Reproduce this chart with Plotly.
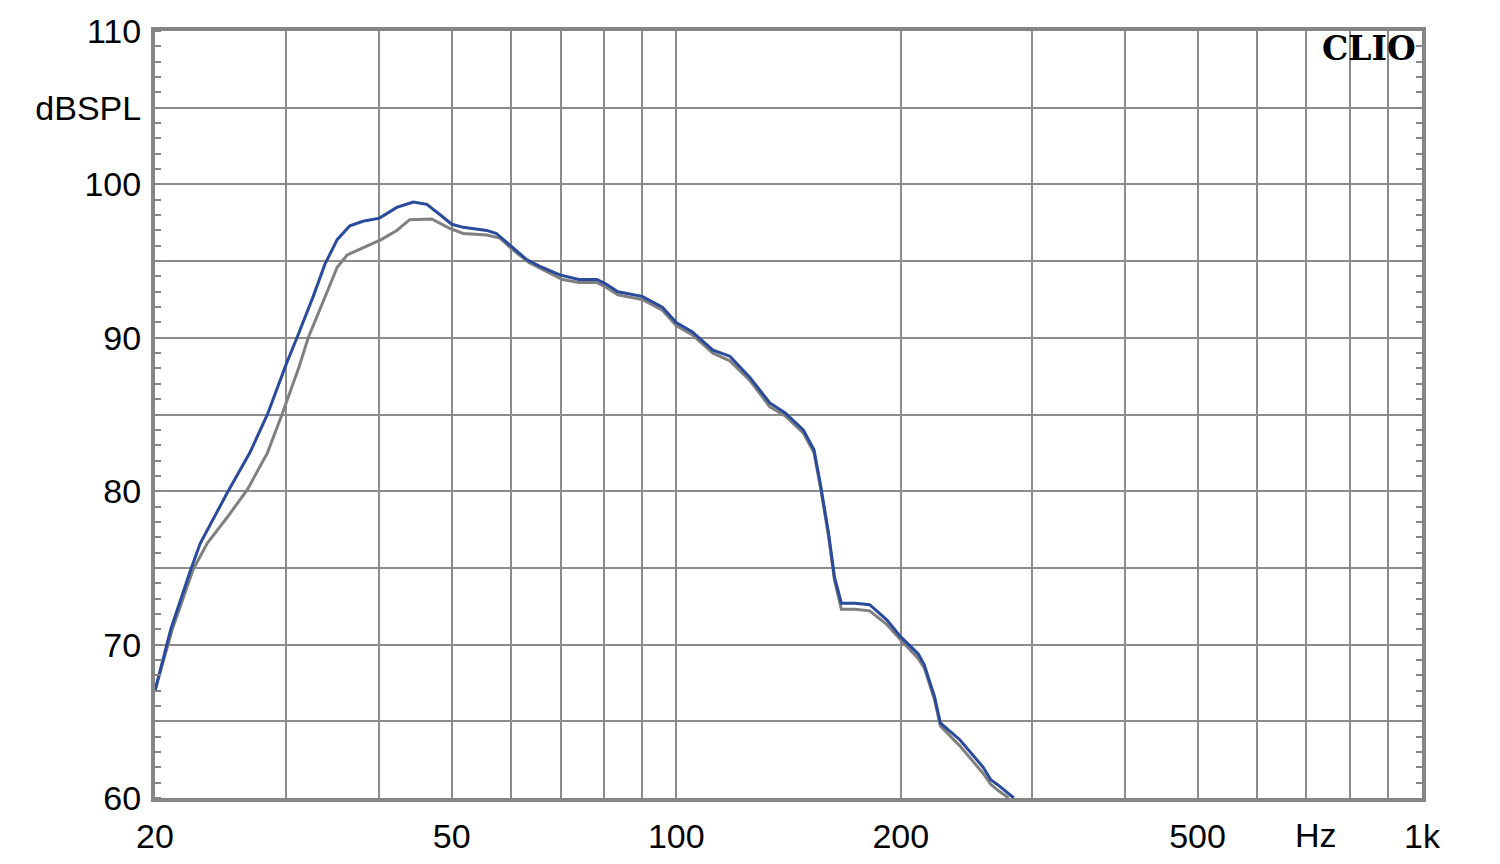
import math
import plotly.graph_objects as go

# ---- data ----
blue_freq = [20, 21, 22.3, 23.0, 25.0, 26.8, 28.3, 30.0, 31.0, 32.6, 33.8, 35.1, 36.5, 38, 40,
             42.2, 44.4, 46.3, 48, 50, 51.8, 55.7, 57.4, 59.9, 63, 66, 69.8, 74, 78.3, 80.5,
             83.5, 90, 95.8, 100, 105, 112, 118, 125.6, 133.5, 140, 148, 153, 156, 160, 163,
             166.5, 173.7, 181.7, 191.7, 200, 211, 215, 222, 226, 240, 258, 264, 270, 283.6]
blue_db = [67.0, 71.0, 74.8, 76.6, 79.9, 82.5, 85.0, 88.3, 90.0, 92.7, 94.8, 96.4, 97.3, 97.6, 97.8,
           98.5, 98.85, 98.7, 98.1, 97.4, 97.2, 97.0, 96.8, 96.0, 95.1, 94.6, 94.1, 93.8, 93.8, 93.5,
           93.0, 92.7, 92.0, 91.0, 90.4, 89.2, 88.8, 87.4, 85.75, 85.1, 84.0, 82.7, 80.5, 77.3, 74.4,
           72.7, 72.7, 72.6, 71.6, 70.5, 69.4, 68.7, 66.6, 64.9, 63.8, 62.0, 61.2, 60.85, 60.0]

gray_freq = [20, 21.1, 22.5, 23.5, 25.0, 26.6, 28.3, 29.6, 31.2, 32.1, 34.1, 35.1, 36.2, 38.0, 40.2,
             42.2, 43.9, 47.0, 49.6, 51.8, 55.7, 58.0, 60.5, 63.5, 70.4, 74, 78.3, 80.5, 83.5, 90,
             95.8, 100, 105, 112, 118, 125.6, 133.5, 140, 148, 153, 156, 160, 163, 166.5, 173.7,
             181.7, 191.7, 200, 211, 215, 222, 226, 240, 258, 264, 270, 279]
gray_db = [67.0, 71.0, 74.9, 76.6, 78.3, 80.1, 82.5, 85.0, 88.1, 90.0, 93.1, 94.6, 95.4, 95.85, 96.4,
           97.0, 97.7, 97.75, 97.15, 96.8, 96.7, 96.5, 95.7, 94.9, 93.8, 93.6, 93.6, 93.3, 92.8, 92.5,
           91.8, 90.8, 90.2, 89.0, 88.5, 87.2, 85.5, 84.9, 83.8, 82.5, 80.3, 77.1, 74.2, 72.3, 72.3,
           72.2, 71.3, 70.3, 69.1, 68.5, 66.4, 64.7, 63.4, 61.6, 60.9, 60.5, 60.0]

x_grid = [20, 30, 40, 50, 60, 70, 80, 90, 100, 200, 300, 400, 500, 600, 700, 800, 900, 1000]
x_labels = ["20", "", "", "50", "", "", "", "", "100", "200", "", "", "500", "", "", "", "", "1k"]
unit_label = "Hz"
unit_pos = 720
y_grid = [60, 65, 70, 75, 80, 85, 90, 95, 100, 105, 110]
y_labels = ["60", "", "70", "", "80", "", "90", "", "100", "dBSPL", "110"]

GRID = "#8c8c8c"
FRAME = "#858585"
FONT = "Liberation Sans, Arial"

fig = go.Figure()
fig.add_trace(go.Scatter(x=gray_freq, y=gray_db, mode="lines",
                         line=dict(color="#808080", width=3), showlegend=False))
fig.add_trace(go.Scatter(x=blue_freq, y=blue_db, mode="lines",
                         line=dict(color="#2a4a9c", width=3), showlegend=False))
# helper trace for right axis ticks
fig.add_trace(go.Scatter(x=[20], y=[60], yaxis="y2", mode="markers",
                         marker=dict(opacity=0), showlegend=False, hoverinfo="skip"))

# page body has an 8px default margin; compensate so plot lands at 155..1422 x 31..798
fig.update_layout(
    width=1500, height=864,
    margin=dict(l=147, r=86, t=23, b=74),
    paper_bgcolor="white", plot_bgcolor="white",
    font=dict(family=FONT, size=34, color="black"),
    xaxis=dict(type="log", range=[math.log10(20), 3],
               tickmode="array", tickvals=x_grid, ticktext=x_labels,
               showgrid=True, gridcolor=GRID, gridwidth=2,
               showline=True, linecolor=FRAME, linewidth=4, mirror=True,
               ticks="", ticklabelstandoff=5, zeroline=False, automargin=False),
    yaxis=dict(range=[60, 110], tickmode="array", tickvals=y_grid, ticktext=y_labels,
               showgrid=True, gridcolor=GRID, gridwidth=2,
               showline=True, linecolor=FRAME, linewidth=4, mirror=True,
               ticks="", ticklabelstandoff=3, zeroline=False, automargin=False,
               minor=dict(ticks="inside", dtick=1, ticklen=6, tickcolor=FRAME,
                          tickwidth=2, showgrid=False)),
    yaxis2=dict(range=[60, 110], overlaying="y", side="right", showgrid=False,
                showticklabels=False, ticks="", zeroline=False, automargin=False,
                minor=dict(ticks="inside", dtick=1, ticklen=6, tickcolor=FRAME,
                           tickwidth=2, showgrid=False)),
    annotations=[
        dict(text="<b>CLIO</b>", xref="paper", yref="paper", x=1, y=1,
             xanchor="right", yanchor="top", xshift=-4, yshift=4, showarrow=False,
             font=dict(family="DejaVu Serif", size=33, color="black")),
        dict(text=unit_label, xref="x", yref="paper", x=math.log10(unit_pos), y=0,
             xanchor="center", yanchor="top", yshift=-16, showarrow=False,
             font=dict(family=FONT, size=34, color="black")),
    ],
)

fig.write_html("out.html")
